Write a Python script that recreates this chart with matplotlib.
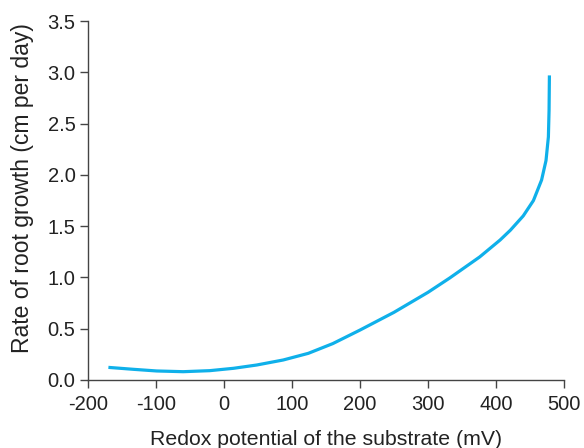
import numpy as np
import matplotlib
matplotlib.use("Agg")
import matplotlib.pyplot as plt
from matplotlib.ticker import FormatStrFormatter

# 读图估计的数据
redox_mv = [-170, -133, -99, -60, -21, 14, 48, 87, 124, 160, 200, 250,
            300, 332, 376, 406, 421, 440, 455, 467, 473.5, 477, 478, 478.5]
growth_rate = [0.123, 0.104, 0.088, 0.081, 0.091, 0.114, 0.146, 0.195,
               0.26, 0.355, 0.487, 0.66, 0.855, 0.995, 1.20, 1.365, 1.46,
               1.60, 1.75, 1.95, 2.14, 2.37, 2.63, 2.97]

x_ticks = [-200, -100, 0, 100, 200, 300, 400, 500]
y_ticks = [0.0, 0.5, 1.0, 1.5, 2.0, 2.5, 3.0, 3.5]

plt.rcParams['font.family'] = ['Liberation Sans', 'DejaVu Sans']
plt.rcParams['axes.unicode_minus'] = False

fig = plt.figure(figsize=(5.84, 4.48), dpi=100)
ax = fig.add_axes([0.1507, 0.1518, 0.8151, 0.8012])

ax.plot(redox_mv, growth_rate, color='#0fb0ea', lw=2.3,
        solid_capstyle='butt', solid_joinstyle='round')

ax.set_xlim(-200, 500)
ax.set_ylim(0, 3.5)
ax.set_xticks(x_ticks)
ax.set_yticks(y_ticks)
ax.yaxis.set_major_formatter(FormatStrFormatter('%.1f'))

for side in ['top', 'right']:
    ax.spines[side].set_visible(False)
for side in ['left', 'bottom']:
    ax.spines[side].set_color('#444444')
    ax.spines[side].set_linewidth(1.0)

ax.tick_params(direction='out', length=6, width=1.0, color='#444444',
               labelsize=14.5, labelcolor='#222222', pad=3)
ax.tick_params(axis='x', pad=5)

ax.set_xlabel('Redox potential of the substrate (mV)', fontsize=15.3,
              color='#222222', labelpad=11)
ax.set_ylabel('Rate of root growth (cm per day)', fontsize=16.5,
              color='#222222')
ax.yaxis.set_label_coords(-0.113, 0.535)

fig.savefig('out.png', dpi=100)
